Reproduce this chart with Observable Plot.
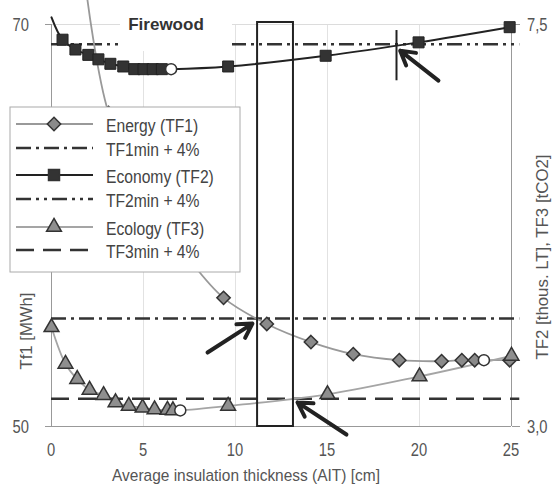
<!DOCTYPE html>
<html><head><meta charset="utf-8">
<script src="https://cdn.jsdelivr.net/npm/d3@7"></script>
<script src="https://cdn.jsdelivr.net/npm/@observablehq/plot@0.6"></script>
<style>
body{margin:0;background:#fff;}
#wrap{position:relative;width:553px;height:484px;}
</style></head><body><div id="wrap"></div>
<script>
const FONT = '"Liberation Sans",Arial,Helvetica,sans-serif';

// Axes
const xTicks = [0, 5, 10, 15, 20, 25];
const leftTicks = [50, 70];
const rightTicks = [3.0, 7.5];
const rightTickLabels = ["3,0", "7,5"];
const leftDomain = [50, 70];
const rightDomain = [3.0, 7.5];
const toLeft = v => leftDomain[0] + (v - rightDomain[0]) / (rightDomain[1] - rightDomain[0]) * (leftDomain[1] - leftDomain[0]);

// Energy (TF1) [MWh], left axis
const energyAIT = [1.9, 3.1, 5.3, 7.5, 9.35, 11.7, 14.1, 16.4, 18.9, 21.2, 22.3, 23.0, 23.5, 24.9];
const energyTF1 = [71.6, 65.6, 61.2, 58.3, 56.4, 55.1, 54.2, 53.6, 53.3, 53.25, 53.3, 53.3, 53.3, 53.3];
const energyMinIndex = 12;

// Economy (TF2) [thous. LT], right axis
const economyAIT = [0, 0.6, 1.3, 2.0, 2.55, 3.2, 3.9, 4.5, 5.0, 5.5, 6.0, 6.5, 9.6, 14.9, 19.95, 24.9];
const economyTF2 = [7.58, 7.33, 7.22, 7.16, 7.11, 7.06, 7.03, 7.0, 7.0, 7.0, 7.0, 7.0, 7.03, 7.15, 7.30, 7.47];
const economyMinIndex = 11;

// Ecology (TF3) [tCO2], right axis
const ecologyAIT = [0, 0.76, 1.4, 2.07, 2.83, 3.48, 4.2, 4.95, 5.6, 6.3, 6.6, 7.0, 9.6, 15, 20, 25];
const ecologyTF3 = [4.11, 3.70, 3.53, 3.41, 3.35, 3.27, 3.23, 3.21, 3.19, 3.185, 3.18, 3.18, 3.23, 3.36, 3.56, 3.79];
const ecologyMinIndex = 11;

// Thresholds (min + 4%)
const thresholdLabels = ["TF1min + 4%", "TF2min + 4%", "TF3min + 4%"];
const thresholdValues = [55.37, 7.28, 3.31];   // TF1 in MWh, TF2/TF3 in right-axis units
const thresholdOnRight = [false, true, true];
const thresholdDash = ["15,5,3,5", "15,5,3,5,3,5", "18,9"];
const thresholdSpan = [0, 25.45];

// Annotations
const boxAIT = [11.2, 13.15];
const boxTop = 70.1;
const markerAIT = 18.75;
const markerSpan = [67.2, 69.7];
const arrowFromAIT = [21.03, 8.48, 16.03];
const arrowFromVal = [67.21, 53.68, 49.6];
const arrowToAIT = [18.95, 10.92, 13.37];
const arrowToVal = [68.7, 55.12, 51.2];

const gridX = [5, 10, 15, 20];

const energy = energyAIT.map((x, i) => ({x, y: energyTF1[i], min: i === energyMinIndex}));
const economy = economyAIT.map((x, i) => ({x, y: toLeft(economyTF2[i]), min: i === economyMinIndex}));
const ecology = ecologyAIT.map((x, i) => ({x, y: toLeft(ecologyTF3[i]), min: i === ecologyMinIndex}));
const thresholds = thresholdValues.map((v, i) => ({y: thresholdOnRight[i] ? toLeft(v) : v, dash: thresholdDash[i]}));
const arrows = arrowFromAIT.map((x, i) => ({x1: x, y1: arrowFromVal[i], x2: arrowToAIT[i], y2: arrowToVal[i]}));
const inside = d => d.y <= leftDomain[1] + 0.05;

const chart = Plot.plot({
  width: 553, height: 484,
  marginLeft: 51, marginRight: 42, marginTop: 24, marginBottom: 58,
  x: {domain: [0, 25], axis: null},
  y: {domain: leftDomain},
  style: {fontFamily: FONT, fontSize: "18px", color: "#555", background: "white", overflow: "visible"},
  marks: [
    Plot.ruleX(gridX, {stroke: "#e2e2e2", strokeWidth: 1}),
    Plot.ruleY([leftDomain[1]], {stroke: "#dcdcdc", strokeWidth: 1}),
    Plot.ruleX([0, 25], {stroke: "#999", strokeWidth: 1}),
    Plot.ruleY([leftDomain[0]], {stroke: "#999", strokeWidth: 1}),
    Plot.axisY(leftTicks, {anchor: "left", tickSize: 6, tickFormat: () => "", label: null, stroke: "#999"}),
    Plot.axisY(leftTicks, {anchor: "right", tickSize: 8, tickFormat: () => "", label: null, stroke: "#999"}),
    ...thresholds.map(t => Plot.ruleY([t.y], {x1: thresholdSpan[0], x2: thresholdSpan[1], stroke: "#333", strokeWidth: 2.5, strokeDasharray: t.dash})),
    Plot.line(energy, {x: "x", y: "y", stroke: "#999", strokeWidth: 1.8, curve: "catmull-rom"}),
    Plot.line(ecology, {x: "x", y: "y", stroke: "#a5a5a5", strokeWidth: 1.8, curve: "catmull-rom"}),
    Plot.line(economy, {x: "x", y: "y", stroke: "#222", strokeWidth: 2, curve: "catmull-rom"}),
    Plot.dot(energy.filter(d => inside(d) && !d.min), {x: "x", y: "y", symbol: "diamond2", r: 6, fill: "#8a8a8a", stroke: "#333", strokeWidth: 1.5}),
    Plot.dot(ecology.filter(d => inside(d) && !d.min), {x: "x", y: "y", symbol: "triangle", r: 5.5, fill: "#8f8f8f", stroke: "#333", strokeWidth: 1.5}),
    Plot.dot(economy.filter(d => inside(d) && !d.min), {x: "x", y: "y", symbol: "square", r: 6.2, fill: "#333", stroke: "#222", strokeWidth: 1}),
    Plot.dot([...energy, ...economy, ...ecology].filter(d => d.min), {x: "x", y: "y", r: 5.5, fill: "white", stroke: "#333", strokeWidth: 1.5}),
    Plot.rect([0], {x1: boxAIT[0], x2: boxAIT[1], y1: leftDomain[0], y2: boxTop, fill: "none", stroke: "#222", strokeWidth: 2}),
    Plot.ruleX([markerAIT], {y1: markerSpan[0], y2: markerSpan[1], stroke: "#222", strokeWidth: 2}),
    Plot.arrow(arrows, {x1: "x1", y1: "y1", x2: "x2", y2: "y2", stroke: "#222", strokeWidth: 4, headLength: 6})
  ]
});

document.getElementById("wrap").appendChild(chart);

const sx = chart.scale("x"), sy = chart.scale("y");
const svg = d3.select(chart);

// Tick labels (narrow typeface imitated with a horizontal squeeze), placed by the plot's scales
const tickText = (x, y, anchor, label) =>
  svg.append("text").attr("transform", `translate(${x},${y}) scale(0.82,1)`)
    .attr("text-anchor", anchor).attr("font-family", FONT).attr("font-size", 18)
    .attr("fill", "#555").text(label);
xTicks.forEach(d => tickText(sx.apply(d), 456, "middle", String(d)));
leftTicks.forEach(d => tickText(29, sy.apply(d) + 6.5, "end", String(d)));
leftTicks.forEach((d, i) => tickText(527, sy.apply(d) + 6.5, "start", rightTickLabels[i]));

// Title with white background box
svg.append("rect").attr("x", 120).attr("y", 8).attr("width", 112).attr("height", 43).attr("fill", "white");
svg.append("text").attr("x", 166).attr("y", 30).attr("text-anchor", "middle")
  .attr("font-family", FONT).attr("font-weight", "bold").attr("font-size", 17)
  .attr("fill", "#333").text("Firewood");

// Axis titles
svg.append("text").attr("x", 246).attr("y", 481).attr("text-anchor", "middle")
  .attr("font-family", FONT).attr("font-size", 17).attr("fill", "#555")
  .attr("textLength", 268).attr("lengthAdjust", "spacingAndGlyphs")
  .text("Average insulation thickness (AIT) [cm]");
svg.append("text").attr("transform", "translate(32,331) rotate(-90)").attr("text-anchor", "middle")
  .attr("font-family", FONT).attr("font-size", 17).attr("fill", "#555")
  .attr("textLength", 77).attr("lengthAdjust", "spacingAndGlyphs")
  .text("Tf1 [MWh]");
svg.append("text").attr("transform", "translate(548,257) rotate(-90)").attr("text-anchor", "middle")
  .attr("font-family", FONT).attr("font-size", 17).attr("fill", "#555")
  .attr("textLength", 205).attr("lengthAdjust", "spacingAndGlyphs")
  .text("TF2 [thous. LT], TF3 [tCO2]");

// Legend
const legendLabels = ["Energy (TF1)", thresholdLabels[0], "Economy (TF2)", thresholdLabels[1], "Ecology (TF3)", thresholdLabels[2]];
const legendStroke = ["#999", "#333", "#222", "#333", "#a5a5a5", "#333"];
const legendWidth = [1.8, 2.5, 2, 2.5, 1.8, 2.5];
const legendDash = [null, thresholdDash[0], null, thresholdDash[1], null, thresholdDash[2]];
const legendSymbol = [d3.symbolDiamond2, null, d3.symbolSquare, null, d3.symbolTriangle, null];
const legendSymSize = [Math.PI * 36, 0, Math.PI * 6.2 * 6.2, 0, Math.PI * 5.5 * 5.5, 0];
const legendFill = ["#8a8a8a", null, "#333", null, "#8f8f8f", null];
const legendRowY = [124, 148, 175, 199, 227, 250];

const lg = svg.append("g");
lg.append("rect").attr("x", 10).attr("y", 107).attr("width", 230).attr("height", 165)
  .attr("fill", "white").attr("stroke", "#aaa").attr("stroke-width", 1);
legendLabels.forEach((lab, i) => {
  const y = legendRowY[i];
  lg.append("line").attr("x1", 16).attr("x2", 93).attr("y1", y).attr("y2", y)
    .attr("stroke", legendStroke[i]).attr("stroke-width", legendWidth[i])
    .attr("stroke-dasharray", legendDash[i]);
  if (legendSymbol[i]) {
    lg.append("path").attr("d", d3.symbol(legendSymbol[i], legendSymSize[i])())
      .attr("transform", `translate(54,${y})`).attr("fill", legendFill[i]).attr("stroke", "#333").attr("stroke-width", 1.5);
  }
  lg.append("text").attr("transform", `translate(106,${y + 7.5}) scale(0.87,1)`)
    .attr("text-anchor", "start").attr("font-family", FONT).attr("font-size", 18)
    .attr("fill", "#444").text(lab);
});
</script>
</body></html>
